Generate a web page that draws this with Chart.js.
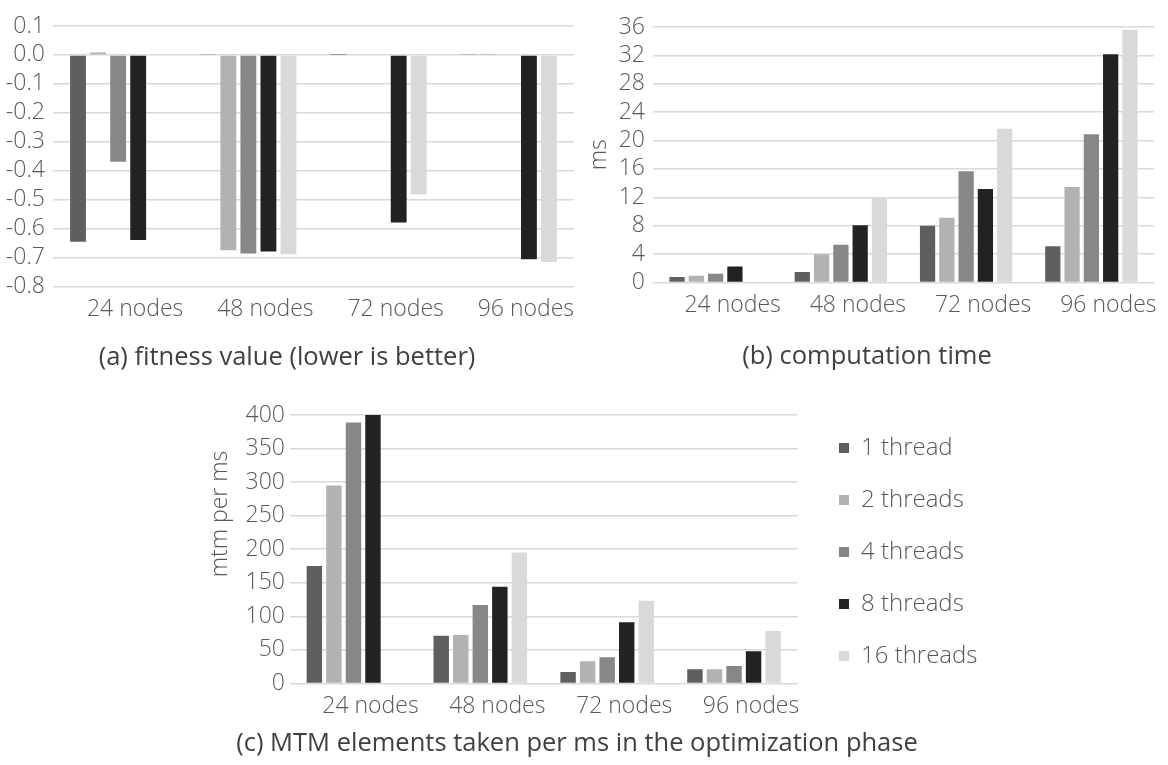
<!DOCTYPE html>
<html>
<head>
<meta charset="utf-8">
<script src="https://cdn.jsdelivr.net/npm/chart.js@4.4.1/dist/chart.umd.min.js"></script>
<style>
  html, body { margin: 0; padding: 0; background: #ffffff; }
  body { width: 1168px; height: 765px; position: relative; overflow: hidden; }
  .panel { position: absolute; }
</style>
</head>
<body>
<div class="panel" style="left:0px;top:0px;width:590px;height:380px;"><canvas id="chartA" width="590" height="380"></canvas></div>
<div class="panel" style="left:580px;top:0px;width:588px;height:380px;"><canvas id="chartB" width="588" height="380"></canvas></div>
<div class="panel" style="left:180px;top:395px;width:810px;height:370px;"><canvas id="chartC" width="810" height="370"></canvas></div>
<script>
// Problem sizes on the x axis
const categories = ['24 nodes', '48 nodes', '72 nodes', '96 nodes'];
const threadLabels = ['1 thread', '2 threads', '4 threads', '8 threads', '16 threads'];
const threadColors = ['#5f5f5f', '#b2b2b2', '#878787', '#222222', '#d9d9d9'];

// (a) fitness value per thread count
const fitness1 = [-0.646, 0.003, 0.001, 0.003];
const fitness2 = [0.008, -0.675, 0.002, 0.001];
const fitness4 = [-0.369, -0.686, 0, 0];
const fitness8 = [-0.640, -0.679, -0.579, -0.706];
const fitness16 = [null, -0.689, -0.482, -0.716];

// (b) computation time in ms
const time1 = [0.75, 1.45, 8.0, 5.1];
const time2 = [0.94, 3.98, 9.1, 13.45];
const time4 = [1.22, 5.3, 15.65, 20.9];
const time8 = [2.25, 8.05, 13.15, 32.15];
const time16 = [null, 12.0, 21.65, 35.6];

// (c) MTM elements taken per ms
const rate1 = [175, 71, 17, 21];
const rate2 = [295, 72, 33, 21];
const rate4 = [389, 117, 39, 26];
const rate8 = [400, 144, 91, 48];
const rate16 = [null, 195, 123, 78];

const tickColor = '#595959';
const captionColor = '#404040';
const gridColor = '#d9d9d9';
const fontFamily = '"Open Sans", "Noto Sans", sans-serif';
const tickFont = { family: fontFamily, size: 23, weight: 300 };

// Moves the legend block to a fixed spot beside the plot area
const legendPlacement = {
  id: 'legendPlacement',
  afterLayout(chart, args, opts) {
    const lg = chart.legend;
    if (!lg || opts.left === undefined) return;
    const w = lg.right - lg.left;
    const h = lg.bottom - lg.top;
    lg.left = opts.left; lg.right = opts.left + w;
    lg.top = opts.top; lg.bottom = opts.top + h;
  }
};

// Rotated value-axis caption placed at a given centre
const sideCaption = {
  id: 'sideCaption',
  afterDraw(chart, args, opts) {
    if (!opts.text) return;
    const ctx = chart.ctx;
    ctx.save();
    ctx.translate(opts.x, opts.y);
    ctx.rotate(-Math.PI / 2);
    ctx.fillStyle = tickColor;
    ctx.font = '300 23px ' + fontFamily;
    ctx.textAlign = 'center';
    ctx.textBaseline = 'middle';
    ctx.fillText(opts.text, 0, 0);
    ctx.restore();
  }
};

function buildDatasets(series) {
  return series.map((values, i) => ({
    label: threadLabels[i],
    data: values,
    backgroundColor: threadColors[i],
    borderWidth: 0,
    categoryPercentage: 0.77,
    barPercentage: 0.79
  }));
}

function makeChart(id, series, opts) {
  return new Chart(document.getElementById(id), {
    type: 'bar',
    data: { labels: categories, datasets: buildDatasets(series) },
    plugins: [legendPlacement, sideCaption],
    options: {
      responsive: false,
      animation: false,
      events: [],
      layout: { padding: opts.padding },
      plugins: {
        legend: opts.legend || { display: false },
        legendPlacement: opts.legendPlace || {},
        sideCaption: opts.sideCaption || {},
        tooltip: { enabled: false },
        title: {
          display: true,
          text: opts.caption,
          position: 'bottom',
          color: captionColor,
          font: { family: fontFamily, size: 25.5, weight: 'normal', lineHeight: 1.2 },
          padding: { top: opts.captionGap, bottom: 0 }
        }
      },
      scales: {
        x: {
          afterFit: s => { s.height = opts.xHeight; },
          grid: { display: false },
          border: { display: false },
          ticks: {
            color: tickColor,
            padding: 1,
            labelOffset: 17,
            maxRotation: 0,
            font: tickFont
          }
        },
        y: {
          min: opts.min,
          max: opts.max,
          afterFit: s => { s.width = opts.yWidth; },
          grid: { color: gridColor, lineWidth: 1.5, drawTicks: false },
          border: { display: false },
          title: opts.yTitle ? {
            display: true,
            text: opts.yTitle,
            color: tickColor,
            padding: { top: 6, bottom: 0 },
            font: tickFont
          } : { display: false },
          ticks: {
            stepSize: opts.step,
            color: tickColor,
            padding: opts.tickPad,
            autoSkip: false,
            font: tickFont,
            callback: opts.format
          }
        }
      }
    }
  });
}

makeChart('chartA', [fitness1, fitness2, fitness4, fitness8, fitness16], {
  caption: '(a) fitness value (lower is better)',
  min: -0.8, max: 0.1, step: 0.1,
  format: v => (Math.abs(v) < 1e-9 ? '0.0' : v.toFixed(1)),
  yWidth: 53, xHeight: 40, tickPad: 8, captionGap: 16,
  padding: { left: 0, right: 16, top: 26, bottom: 7 }
});

makeChart('chartB', [time1, time2, time4, time8, time16], {
  caption: '(b) computation time',
  min: 0, max: 36, step: 4,
  yTitle: 'ms',
  format: v => String(Math.round(v)),
  yWidth: 73, xHeight: 40, tickPad: 8, captionGap: 19,
  padding: { left: 0, right: 14, top: 27, bottom: 8 }
});

makeChart('chartC', [rate1, rate2, rate4, rate8, rate16], {
  caption: '(c) MTM elements taken per ms in the optimization phase',
  min: 0, max: 400, step: 50,
  format: v => String(Math.round(v)),
  yWidth: 110, xHeight: 36, tickPad: 5, captionGap: 9,
  padding: { left: 0, right: 16, top: 20, bottom: 6 },
  sideCaption: { text: 'mtm per ms', x: 40, y: 119 },
  legendPlace: { left: 631, top: 13 },
  legend: {
    display: true,
    position: 'right',
    align: 'start',
    labels: {
      color: tickColor,
      boxWidth: 10,
      boxHeight: 10,
      padding: 28,
      font: { family: fontFamily, size: 24, weight: 300 }
    }
  }
});
</script>
</body>
</html>
